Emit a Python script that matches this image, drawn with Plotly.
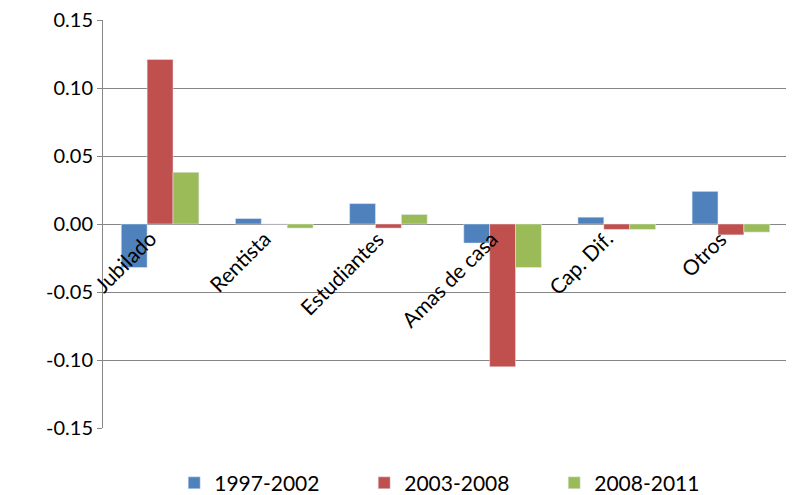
import plotly.graph_objects as go

categories = ["Jubilado", "Rentista", "Estudiantes", "Amas de casa", "Cap. Dif.", "Otros"]
s1997 = [-0.032, 0.004, 0.015, -0.014, 0.005, 0.024]
s2003 = [0.121, 0.0, -0.003, -0.105, -0.004, -0.008]
s2008 = [0.038, -0.003, 0.007, -0.032, -0.004, -0.006]
names = ["1997-2002", "2003-2008", "2008-2011"]
colors = ["#4F81BD", "#C0504D", "#9BBB59"]
ytick_vals = [-0.15, -0.10, -0.05, 0.0, 0.05, 0.10, 0.15]
ytick_text = ["-0.15", "-0.10", "-0.05", "0.00", "0.05", "0.10", "0.15"]

fig = go.Figure()
for name, vals, col in zip(names, [s1997, s2003, s2008], colors):
    fig.add_trace(go.Bar(x=categories, y=vals, name=name, marker_color=col))

for c in categories:
    fig.add_annotation(x=c, y=0, text=c, textangle=-45, showarrow=False,
                       xanchor="right", yanchor="top", xshift=3, yshift=1,
                       font=dict(size=21, color="black"))

fig.update_layout(
    width=794, height=495,
    margin=dict(l=95, r=14, t=12, b=75, autoexpand=False),
    plot_bgcolor="white", paper_bgcolor="white",
    font=dict(family="Lato, Liberation Sans", size=20, color="black"),
    bargap=0.32, bargroupgap=0,
    legend=dict(orientation="h", x=0.52, xanchor="center", y=-0.085, yanchor="top",
                entrywidth=145, font=dict(size=21)),
    xaxis=dict(showticklabels=False, showline=False, range=[-0.5, 5.5]),
    yaxis=dict(range=[-0.15, 0.15], tickvals=ytick_vals, ticktext=ytick_text,
               ticklabeloverflow="allow",
               showgrid=True, gridcolor="#868686", showline=True,
               linecolor="#868686", ticks="outside", tickcolor="#868686",
               zeroline=True, zerolinecolor="#868686", zerolinewidth=1),
)
fig.write_html("out.html")
